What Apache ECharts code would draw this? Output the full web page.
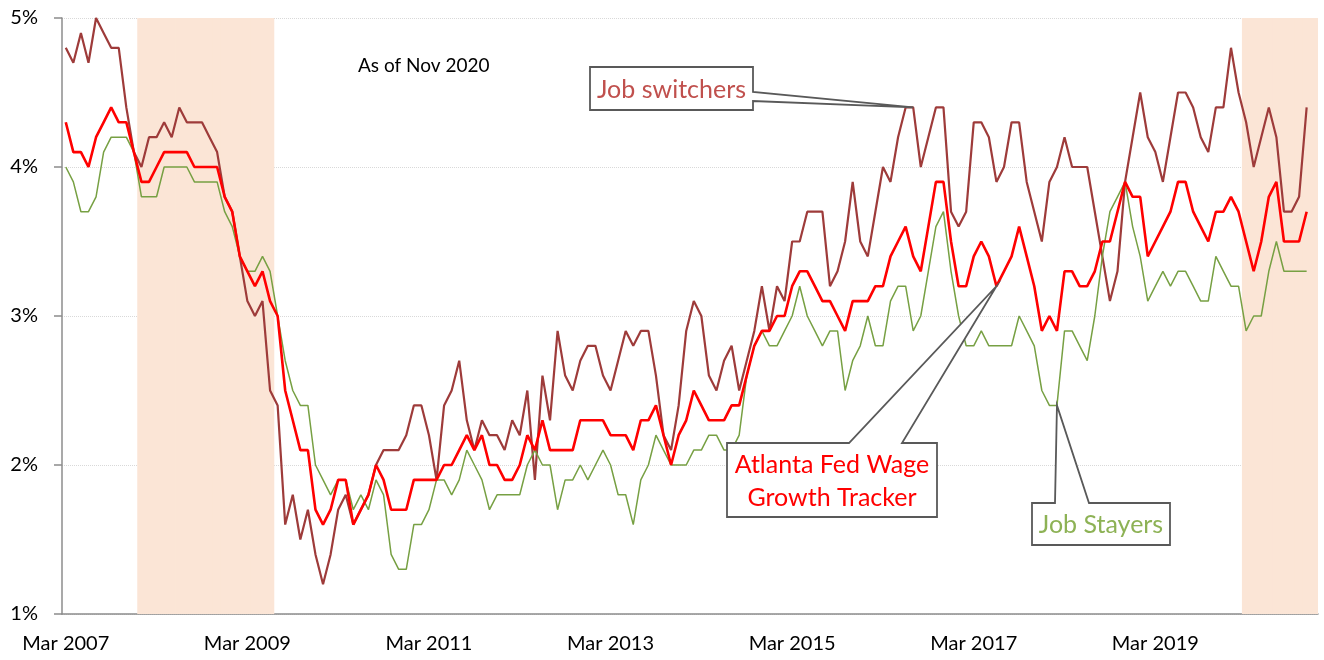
<!DOCTYPE html>
<html>
<head>
<meta charset="utf-8">
<script src="https://cdn.jsdelivr.net/npm/echarts@6/dist/echarts.min.js"></script>
<style>
html, body { margin: 0; padding: 0; background: #fff; }
#chart { width: 1324px; height: 660px; }
</style>
</head>
<body>
<div id="chart"></div>
<script>
// monthly categories, Mar 2007 .. Dec 2020 (data ends Nov 2020)
var monthNames = ['Jan','Feb','Mar','Apr','May','Jun','Jul','Aug','Sep','Oct','Nov','Dec'];
var months = [];
for (var k = 0; k < 166; k++) {
    var m = 2 + k;
    months.push(monthNames[m % 12] + ' ' + (2007 + Math.floor(m / 12)));
}

var jobSwitchers = [
    4.8,4.7,4.9,4.7,5.0,4.9,4.8,4.8,4.4,4.1,
    4.0,4.2,4.2,4.3,4.2,4.4,4.3,4.3,4.3,4.2,
    4.1,3.8,3.7,3.4,3.1,3.0,3.1,2.5,
    2.4,1.6,1.8,1.5,1.7,1.4,1.2,1.4,1.7,1.8,
    1.6,1.7,1.8,2.0,2.1,2.1,2.1,2.2,2.4,2.4,
    2.2,1.9,2.4,2.5,2.7,2.3,2.1,
    2.3,2.2,2.2,2.1,2.3,2.2,2.5,1.9,2.6,2.3,
    2.9,2.6,2.5,2.7,2.8,2.8,2.6,2.5,2.7,2.9,
    2.8,2.9,2.9,2.6,2.2,2.1,2.4,2.9,
    3.1,3.0,2.6,2.5,2.7,2.8,2.5,2.7,2.9,3.2,
    2.9,3.2,3.1,3.5,3.5,3.7,3.7,3.7,3.2,3.3,
    3.5,3.9,3.5,3.4,3.7,4.0,3.9,4.2,
    4.4,4.4,4.0,4.2,4.4,4.4,3.7,3.6,3.7,4.3,
    4.3,4.2,3.9,4.0,4.3,4.3,3.9,3.7,3.5,3.9,
    4.0,4.2,4.0,4.0,4.0,3.7,3.4,
    3.1,3.3,3.9,4.2,4.5,4.2,4.1,3.9,4.2,4.5,
    4.5,4.4,4.2,4.1,4.4,4.4,4.8,4.5,4.3,4.0,
    4.2,4.4,4.2,3.7,3.7,3.8,4.4
];

var wageTracker = [
    4.3,4.1,4.1,4.0,4.2,4.3,4.4,4.3,4.3,4.1,
    3.9,3.9,4.0,4.1,4.1,4.1,4.1,4.0,4.0,4.0,
    4.0,3.8,3.7,3.4,3.3,3.2,3.3,3.1,
    3.0,2.5,2.3,2.1,2.1,1.7,1.6,1.7,1.9,1.9,
    1.6,1.7,1.8,2.0,1.9,1.7,1.7,1.7,1.9,1.9,
    1.9,1.9,2.0,2.0,2.1,2.2,2.1,
    2.2,2.0,2.0,1.9,1.9,2.0,2.2,2.1,2.3,2.1,
    2.1,2.1,2.1,2.3,2.3,2.3,2.3,2.2,2.2,2.2,
    2.1,2.3,2.3,2.4,2.2,2.0,2.2,2.3,
    2.5,2.4,2.3,2.3,2.3,2.4,2.4,2.6,2.8,2.9,
    2.9,3.0,3.0,3.2,3.3,3.3,3.2,3.1,3.1,3.0,
    2.9,3.1,3.1,3.1,3.2,3.2,3.4,3.5,
    3.6,3.4,3.3,3.6,3.9,3.9,3.5,3.2,3.2,3.4,
    3.5,3.4,3.2,3.3,3.4,3.6,3.4,3.2,2.9,3.0,
    2.9,3.3,3.3,3.2,3.2,3.3,3.5,
    3.5,3.7,3.9,3.8,3.8,3.4,3.5,3.6,3.7,3.9,
    3.9,3.7,3.6,3.5,3.7,3.7,3.8,3.7,3.5,3.3,
    3.5,3.8,3.9,3.5,3.5,3.5,3.7
];

var jobStayers = [
    4.0,3.9,3.7,3.7,3.8,4.1,4.2,4.2,4.2,4.1,
    3.8,3.8,3.8,4.0,4.0,4.0,4.0,3.9,3.9,3.9,
    3.9,3.7,3.6,3.4,3.3,3.3,3.4,3.3,
    3.0,2.7,2.5,2.4,2.4,2.0,1.9,1.8,1.9,1.9,
    1.7,1.8,1.7,1.9,1.8,1.4,1.3,1.3,1.6,1.6,
    1.7,1.9,1.9,1.8,1.9,2.1,2.0,
    1.9,1.7,1.8,1.8,1.8,1.8,2.0,2.1,2.0,2.0,
    1.7,1.9,1.9,2.0,1.9,2.0,2.1,2.0,1.8,1.8,
    1.6,1.9,2.0,2.2,2.1,2.0,2.0,2.0,
    2.1,2.1,2.2,2.2,2.1,2.1,2.2,2.6,2.8,2.9,
    2.8,2.8,2.9,3.0,3.2,3.0,2.9,2.8,2.9,2.9,
    2.5,2.7,2.8,3.0,2.8,2.8,3.1,3.2,
    3.2,2.9,3.0,3.3,3.6,3.7,3.3,3.0,2.8,2.8,
    2.9,2.8,2.8,2.8,2.8,3.0,2.9,2.8,2.5,2.4,
    2.4,2.9,2.9,2.8,2.7,3.0,3.4,
    3.7,3.8,3.9,3.6,3.4,3.1,3.2,3.3,3.2,3.3,
    3.3,3.2,3.1,3.1,3.4,3.3,3.2,3.2,2.9,3.0,
    3.0,3.3,3.5,3.3,3.3,3.3,3.3
];

// shaded recession periods (first and last month)
var recessions = [['Jan 2008', 'Jun 2009'], ['Mar 2020', 'Dec 2020']];

var yMin = 1, yMax = 5, yStep = 1;

var shade = months.map(function (name, i) {
    for (var r = 0; r < recessions.length; r++) {
        if (i >= months.indexOf(recessions[r][0]) && i <= months.indexOf(recessions[r][1])) return yMax;
    }
    return '-';
});

var font = 'Lato, "Liberation Sans", sans-serif';
var axisGray = '#8c8c8c';

var chart = echarts.init(document.getElementById('chart'));
chart.setOption({
    animation: false,
    backgroundColor: '#fff',
    grid: { left: 62, right: 6, top: 18, bottom: 46 },
    xAxis: {
        type: 'category',
        data: months,
        boundaryGap: true,
        axisLine: { lineStyle: { color: axisGray, width: 1.5 } },
        axisTick: { interval: 23, length: 7, lineStyle: { color: axisGray, width: 1.5 } },
        axisLabel: { interval: 23, margin: 20, color: '#000', fontSize: 20, fontFamily: font },
        splitLine: { show: false }
    },
    yAxis: {
        type: 'value',
        min: yMin, max: yMax, interval: yStep,
        axisLine: { show: true, lineStyle: { color: axisGray, width: 1.5 } },
        axisTick: { show: true, length: 8, lineStyle: { color: axisGray, width: 1.5 } },
        axisLabel: { formatter: '{value}%', margin: 24, color: '#000', fontSize: 20, fontFamily: font },
        splitLine: { lineStyle: { color: '#d9d9d9', type: 'dotted', width: 1 } }
    },
    series: [
        {
            // slightly wider than a month so neighbouring bars overlap without seams
            name: 'Recession', type: 'bar', data: shade,
            barWidth: 8.4, silent: true, z: 1,
            itemStyle: { color: '#fbe5d6' }
        },
        {
            name: 'Job switchers', type: 'line', data: jobSwitchers,
            symbol: 'none', z: 3,
            lineStyle: { color: '#9e3b3a', width: 2.2 }
        },
        {
            name: 'Job Stayers', type: 'line', data: jobStayers,
            symbol: 'none', z: 4,
            lineStyle: { color: '#77a043', width: 1.5 }
        },
        {
            name: 'Atlanta Fed Wage Growth Tracker', type: 'line', data: wageTracker,
            symbol: 'none', z: 5,
            lineStyle: { color: '#ff0000', width: 2.6 }
        }
    ]
});

// callout boxes, the wedge tip sits on a data point
var callouts = [
    { text: 'Job switchers', color: '#c0504d', data: jobSwitchers, at: 'Jul 2016',
      box: [590, 67, 163, 43], side: 'right', wedge: [92, 101] },
    { text: 'Atlanta Fed Wage\nGrowth Tracker', color: '#ff0000', data: wageTracker, at: 'Jun 2017',
      box: [727, 443, 210, 74], side: 'top', wedge: [849, 902] },
    { text: 'Job Stayers', color: '#8db255', data: jobStayers, at: 'Feb 2018',
      box: [1032, 503, 138, 42], side: 'top', wedge: [1055, 1089] }
];

var graphics = [{
    type: 'text', x: 358, y: 66, z: 20,
    style: { text: 'As of Nov 2020', fill: '#000', font: '19px ' + font,
             align: 'left', verticalAlign: 'middle', textAlign: 'left', textVerticalAlign: 'middle' }
}];

callouts.forEach(function (c) {
    var idx = months.indexOf(c.at);
    var tip = chart.convertToPixel({ xAxisIndex: 0, yAxisIndex: 0 }, [idx, c.data[idx]]);
    var x = c.box[0], y = c.box[1], w = c.box[2], h = c.box[3];
    var pts;
    if (c.side === 'right') {
        pts = [[x, y], [x + w, y], [x + w, c.wedge[0]], tip, [x + w, c.wedge[1]], [x + w, y + h], [x, y + h]];
    } else {
        pts = [[x, y], [c.wedge[0], y], tip, [c.wedge[1], y], [x + w, y], [x + w, y + h], [x, y + h]];
    }
    graphics.push({
        type: 'polygon', z: 20,
        shape: { points: pts },
        style: { fill: '#fff', stroke: '#595959', lineWidth: 1.8 }
    });
    graphics.push({
        type: 'text', x: x + w / 2, y: y + h / 2 + 1, z: 21,
        style: { text: c.text, fill: c.color, font: '25px ' + font, lineHeight: 33,
                 align: 'center', verticalAlign: 'middle', textAlign: 'center', textVerticalAlign: 'middle' }
    });
});

chart.setOption({ graphic: graphics });
</script>
</body>
</html>
